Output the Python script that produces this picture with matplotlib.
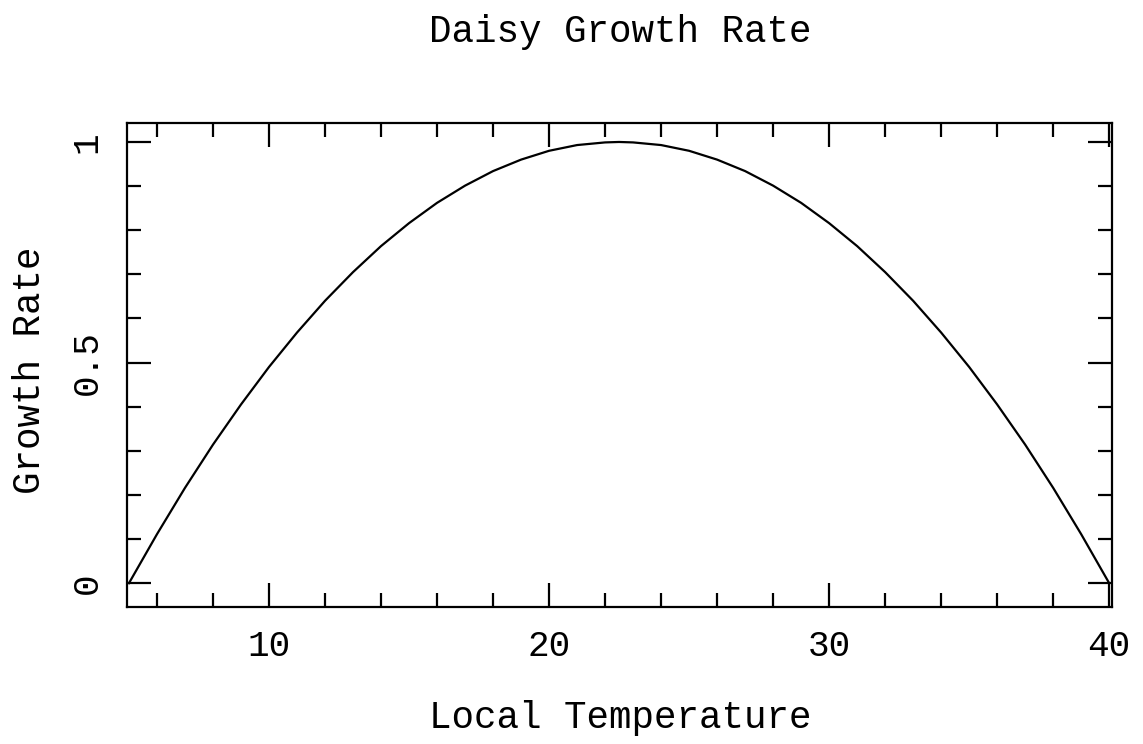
import matplotlib.pyplot as plt
from matplotlib.ticker import MultipleLocator

# values
temperature = [5, 6, 7, 8, 9, 10, 11, 12, 13, 14, 15, 16, 17, 18, 19, 20, 21, 22, 22.5,
               23, 24, 25, 26, 27, 28, 29, 30, 31, 32, 33, 34, 35, 36, 37, 38, 39, 40]
growth = [0.0, 0.111, 0.216, 0.314, 0.405, 0.490, 0.568, 0.640, 0.705, 0.764, 0.816,
          0.862, 0.901, 0.934, 0.960, 0.980, 0.993, 0.999, 1.0,
          0.999, 0.993, 0.980, 0.960, 0.934, 0.901, 0.862, 0.816, 0.764, 0.705,
          0.640, 0.568, 0.490, 0.405, 0.314, 0.216, 0.111, 0.0]
x_ticks = [10, 20, 30, 40]
y_ticks = [0, 0.5, 1]
y_tick_labels = ["0", "0.5", "1"]

plt.rcParams['font.family'] = ['Liberation Mono', 'DejaVu Sans Mono']

W, H = 1143, 744
fig = plt.figure(figsize=(W / 100, H / 100), dpi=100)
ax = fig.add_axes([127 / W, 1 - 607 / H, (1112 - 127) / W, (607 - 123) / H])

ax.plot(temperature, growth, color='black', linewidth=1.6)

ax.set_xlim(4.93, 40.1)
ax.set_ylim(-0.054, 1.043)

ax.set_xticks(x_ticks)
ax.set_yticks(y_ticks)
ax.set_yticklabels(y_tick_labels, rotation=90, va='center')
ax.xaxis.set_minor_locator(MultipleLocator(2))
ax.yaxis.set_minor_locator(MultipleLocator(0.1))

ax.tick_params(which='both', direction='in', top=True, right=True, width=1.6,
               labelsize=26, color='black')
ax.tick_params(which='major', length=17)
ax.tick_params(which='minor', length=10)
ax.tick_params(axis='x', which='major', pad=16)
ax.tick_params(axis='y', which='major', pad=16)
for s in ax.spines.values():
    s.set_linewidth(1.6)

fig.text(620 / W, 1 - 718 / H, "Local Temperature", fontsize=27, ha='center', va='center')
fig.text(30 / W, 1 - 370 / H, "Growth Rate", fontsize=27, ha='center', va='center',
         rotation=90)
fig.text(620 / W, 1 - 32 / H, "Daisy Growth Rate", fontsize=27, ha='center', va='center')

plt.savefig("out.png", dpi=100)
plt.close()
